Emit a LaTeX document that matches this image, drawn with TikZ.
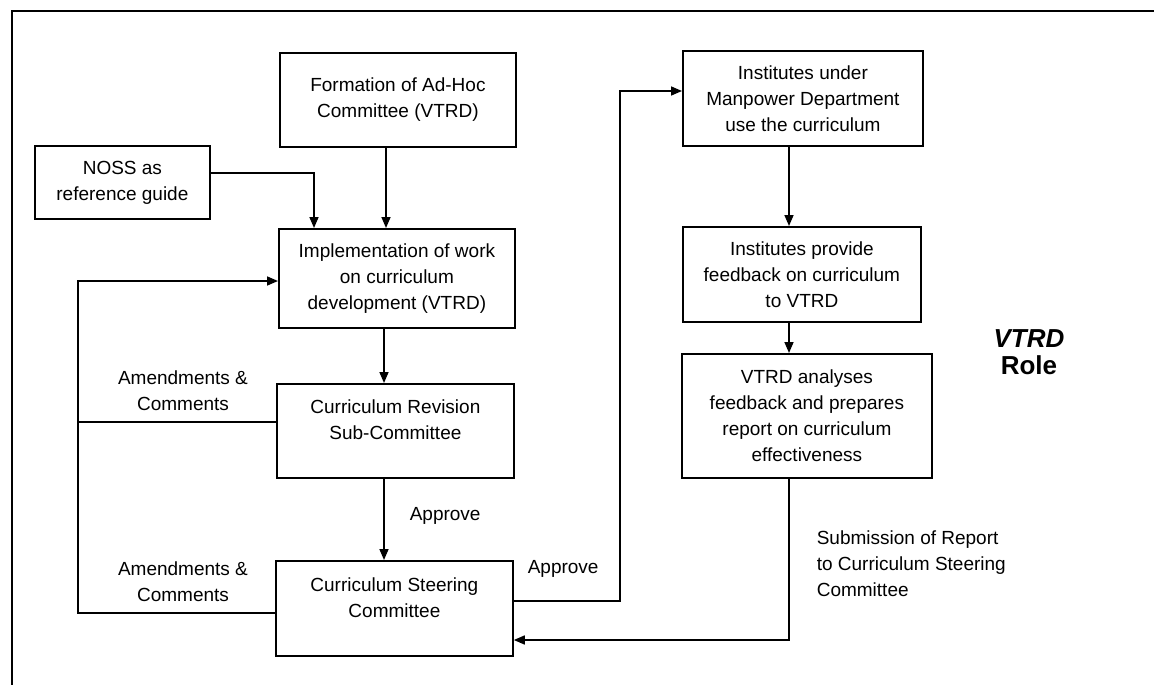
\documentclass[tikz,border=0pt]{standalone}
\usepackage{fontspec}
\setmainfont{Liberation Sans}
\usetikzlibrary{arrows.meta}
\begin{document}
\begin{tikzpicture}[x=1pt,y=-1pt,
  line width=1.6pt,
  box/.style={draw, rectangle, line width=1.8pt, inner sep=0pt, anchor=north west,
              align=center, font=\fontsize{19}{26}\selectfont},
  lbl/.style={align=center, font=\fontsize{19}{26}\selectfont, inner sep=0pt},
  flow/.style={-{Triangle[length=11pt,width=9pt]}},
  plain/.style={-}]
\useasboundingbox (0,0) rectangle (1154,685);
% frame
\draw[line width=1.6pt] (12,685) -- (12,11) -- (1154,11);

% left column
\node[box, minimum width=236pt, minimum height=94pt] (form) at (279,52)
  {Formation of Ad-Hoc\\Committee (VTRD)};
\node[box, minimum width=175pt, minimum height=73pt] (noss) at (34,145)
  {NOSS as\\reference guide};
\node[box, minimum width=236pt, minimum height=99pt] (impl) at (278,228)
  {Implementation of work\\on curriculum\\development (VTRD)};
\node[box, minimum width=237pt, minimum height=94pt] (rev) at (276,383)
  {Curriculum Revision\\Sub-Committee\\[-4pt]};
\node[box, minimum width=237pt, minimum height=95pt] (steer) at (275,560)
  {Curriculum Steering\\Committee\\[-4pt]};

% right column
\node[box, minimum width=240pt, minimum height=95pt] (use) at (682,50)
  {Institutes under\\Manpower Department\\use the curriculum};
\node[box, minimum width=238pt, minimum height=95pt] (fb) at (682,226)
  {Institutes provide\\feedback on curriculum\\to VTRD};
\node[box, minimum width=250pt, minimum height=124pt] (ana) at (681,353)
  {VTRD analyses\\feedback and prepares\\report on curriculum\\effectiveness};

% coordinates of bends
\coordinate (nossbend) at (314,173);
\coordinate (loopTop) at (78,281);
\coordinate (loopMid) at (78,422);
\coordinate (loopBot) at (78,613);
\coordinate (apprA) at (620,601);
\coordinate (apprB) at (620,91);
\coordinate (subA) at (789,640);

% connectors
\draw[flow] (form.south -| 386,0) -- (impl.north -| 386,0);
\draw[flow] (noss.east |- nossbend) -- (nossbend) -- (nossbend |- impl.north);
\draw[flow] (impl.south -| 384,0) -- (rev.north -| 384,0);
\draw[flow] (rev.south -| 384,0) -- (steer.north -| 384,0);
\draw[plain] (rev.west |- loopMid) -- (loopMid);
\draw[flow] (steer.west |- loopBot) -- (loopBot) -- (loopTop) -- (impl.west |- loopTop);
\draw[flow] (steer.east |- apprA) -- (apprA) -- (apprB) -- (use.west |- apprB);
\draw[flow] (use.south -| 789,0) -- (fb.north -| 789,0);
\draw[flow] (fb.south -| 789,0) -- (ana.north -| 789,0);
\draw[flow] (ana.south -| subA) -- (subA) -- (steer.east |- subA);

% labels
\node[lbl] (am1) at (183,391) {Amendments \&\\Comments};
\node[lbl] (am2) at (183,582) {Amendments \&\\Comments};
\node[lbl, anchor=west] (ap1) at (409,516) {Approve};
\node[lbl, anchor=west] (ap2) at (527,569) {Approve};
\node[lbl, anchor=north west, align=left] (sub) at (816,530)
  {Submission of Report\\to Curriculum Steering\\Committee};
\node[lbl, font=\fontsize{26}{27}\selectfont\bfseries] (role) at (1029,352)
  {\textit{VTRD}\\Role};
\end{tikzpicture}
\end{document}
